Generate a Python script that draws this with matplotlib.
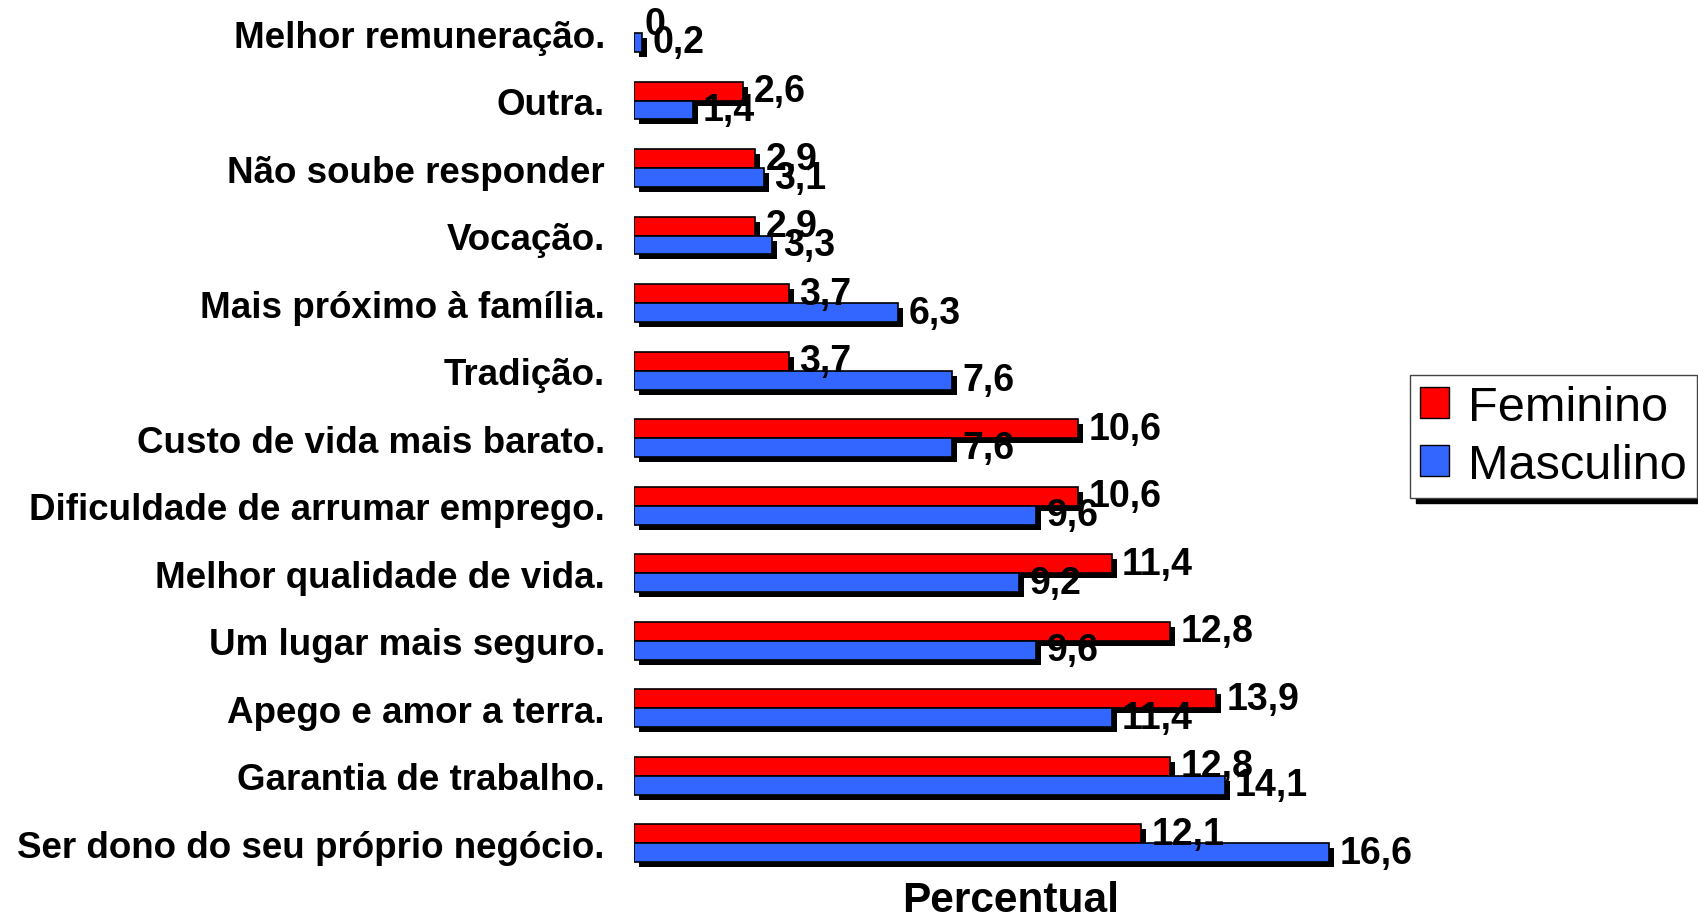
import matplotlib
matplotlib.use('Agg')
import matplotlib.pyplot as plt
import matplotlib.patheffects as pe
from matplotlib.patches import Patch
import numpy as np

plt.rcParams['font.family'] = ['Liberation Sans', 'DejaVu Sans']

# categorias de cima para baixo
categorias = [
    "Melhor remuneração.",
    "Outra.",
    "Não soube responder",
    "Vocação.",
    "Mais próximo à família.",
    "Tradição.",
    "Custo de vida mais barato.",
    "Dificuldade de arrumar emprego.",
    "Melhor qualidade de vida.",
    "Um lugar mais seguro.",
    "Apego e amor a terra.",
    "Garantia de trabalho.",
    "Ser dono do seu próprio negócio.",
]
feminino = [0, 2.6, 2.9, 2.9, 3.7, 3.7, 10.6, 10.6, 11.4, 12.8, 13.9, 12.8, 12.1]
masculino = [0.2, 1.4, 3.1, 3.3, 6.3, 7.6, 7.6, 9.6, 9.2, 9.6, 11.4, 14.1, 16.6]

cor_f = '#ff0000'
cor_m = '#3366ff'


def rotulo(v):
    if v == 0:
        return "0"
    return f"{v:.1f}".replace('.', ',')


fig = plt.figure(figsize=(16.98, 9.2), dpi=100)
ax = fig.add_axes([0.3734, 0.0457, 0.444, 0.954])

y = np.arange(len(categorias))
h = 0.28
sombra = [pe.SimplePatchShadow(offset=(3.6, -3.6), shadow_rgbFace='black', alpha=1.0), pe.Normal()]

barras_f = ax.barh(y - h / 2, feminino, height=h, color=cor_f, edgecolor='black', linewidth=1.2)
barras_m = ax.barh(y + h / 2, masculino, height=h, color=cor_m, edgecolor='black', linewidth=1.2)
for b in list(barras_f) + list(barras_m):
    b.set_path_effects(sombra)
    if b.get_width() == 0:
        b.set_visible(False)

for i in range(len(categorias)):
    ax.annotate(rotulo(feminino[i]), (feminino[i], y[i] - h / 2), xytext=(7.5, 0),
                textcoords='offset points', va='center', ha='left',
                fontsize=27, fontweight='bold', zorder=5)
    ax.annotate(rotulo(masculino[i]), (masculino[i], y[i] + h / 2), xytext=(7.5, 0),
                textcoords='offset points', va='center', ha='left',
                fontsize=27, fontweight='bold', zorder=5)

ax.set_yticks(y)
ax.set_yticklabels(categorias, fontsize=26.5, fontweight='bold')
ax.tick_params(axis='y', length=0, pad=21)
ax.set_xticks([])
ax.set_xlim(0, 18)
ax.set_ylim(len(categorias) - 0.5, -0.5)
for s in ax.spines.values():
    s.set_visible(False)

ax.set_xlabel("Percentual", fontsize=30.5, fontweight='bold', labelpad=2)

handles = [Patch(facecolor=cor_f, edgecolor='black', label='Feminino'),
           Patch(facecolor=cor_m, edgecolor='black', label='Masculino')]
leg = fig.legend(handles=handles, loc='upper left',
                 bbox_to_anchor=(1410 / 1698, 1 - 376 / 920),
                 fontsize=35, frameon=True, fancybox=False,
                 shadow={'color': 'black', 'alpha': 1.0, 'ox': 4, 'oy': -4},
                 handlelength=0.6, handleheight=0.6, handletextpad=0.4,
                 borderpad=0.2, labelspacing=0.27, borderaxespad=0)
leg.get_frame().set_edgecolor('#444444')
leg.get_frame().set_linewidth(1.0)

fig.savefig('out.png', dpi=100)
